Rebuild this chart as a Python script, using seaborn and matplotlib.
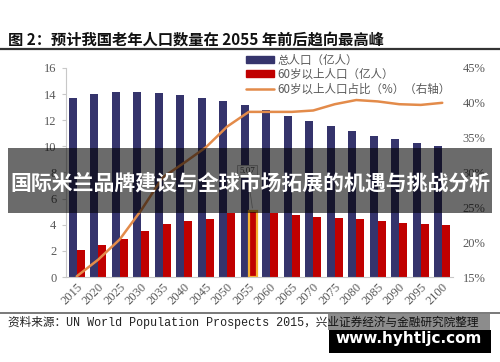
import numpy as np
import pandas as pd
import matplotlib
matplotlib.use("Agg")
import matplotlib.pyplot as plt
import seaborn as sns
from matplotlib.patches import Rectangle, Patch
from matplotlib.lines import Line2D

# --- data ---
years = ["2015", "2020", "2025", "2030", "2035", "2040", "2045", "2050", "2055",
         "2060", "2065", "2070", "2075", "2080", "2085", "2090", "2095", "2100"]
total_pop = [13.73, 14.00, 14.14, 14.14, 14.05, 13.90, 13.73, 13.48, 13.15,
             12.79, 12.35, 11.94, 11.56, 11.20, 10.82, 10.54, 10.24, 10.00]
old_pop = [2.07, 2.43, 2.91, 3.55, 4.08, 4.29, 4.47, 4.87, 5.07,
           4.87, 4.72, 4.62, 4.54, 4.47, 4.31, 4.13, 4.03, 3.96]
old_share = [15.1, 17.5, 20.4, 24.6, 29.3, 31.4, 33.6, 36.6, 38.7,
             38.7, 38.7, 38.9, 39.8, 40.4, 40.2, 39.8, 39.7, 40.0]
series_names = ["总人口（亿人）", "60岁以上人口（亿人）", "60岁以上人口占比（%）（右轴）"]

navy, red, orange = "#35346c", "#c00000", "#e38b4a"
tick_grey = "#595959"

sns.set_style("white")
plt.rcParams["font.family"] = ["Noto Sans CJK SC", "DejaVu Sans"]

df = pd.DataFrame({
    "year": years * 2,
    "value": total_pop + old_pop,
    "series": [series_names[0]] * len(years) + [series_names[1]] * len(years),
})

fig = plt.figure(figsize=(5, 3.62), dpi=100)
ax = fig.add_axes([0.132, 0.2348, 0.774, 0.5774])

sns.barplot(data=df, x="year", y="value", hue="series", palette=[navy, red],
            width=0.75, saturation=1, linewidth=0, legend=False, ax=ax)
ax.set_xlim(-0.5, len(years) - 0.5)
ax.set_ylim(0, 16)
ax.set_yticks(range(0, 17, 2))
ax.set_xlabel("")
ax.set_ylabel("")

# highlighted 2055 bar
hl = ax.patches[len(years) + years.index("2055")]
hl.set_edgecolor("#f5b030")
hl.set_linewidth(1.6)
ax.annotate("5.07", xy=(8.19, 5.07), xytext=(7.92, 8.1),
            ha="center", va="center", fontsize=6.5, family="Liberation Serif",
            color="#444",
            bbox=dict(boxstyle="square,pad=0.25", fc="#f2f2f2", ec="#aaaaaa", lw=0.6),
            arrowprops=dict(arrowstyle="-", color="#aaaaaa", lw=0.6))

for s in ["top", "right"]:
    ax.spines[s].set_visible(False)
for s in ["left", "bottom"]:
    ax.spines[s].set_color("#c8c8c8")
    ax.spines[s].set_linewidth(0.8)
ax.tick_params(axis="y", length=3, width=0.8, color="#c8c8c8", pad=4,
               labelsize=9, labelcolor=tick_grey)
ax.tick_params(axis="x", which="major", length=0, pad=3, labelsize=9, labelcolor=tick_grey)
ax.set_xticks(np.arange(-0.5, len(years), 1), minor=True)
ax.tick_params(axis="x", which="minor", length=3, width=0.8, color="#c8c8c8")
for lab in ax.get_xticklabels() + ax.get_yticklabels():
    lab.set_family("Liberation Serif")
for lab in ax.get_xticklabels():
    lab.set_rotation(45)
    lab.set_ha("right")
    lab.set_va("top")
    lab.set_rotation_mode("anchor")

ax2 = ax.twinx()
sns.lineplot(x=np.arange(len(years)), y=old_share, color=orange, linewidth=1.8, ax=ax2)
ax2.set_ylim(15, 45)
ax2.set_yticks(range(15, 46, 5))
ax2.set_yticklabels([f"{v}%" for v in range(15, 46, 5)], family="Liberation Serif")
ax2.tick_params(axis="y", length=0, pad=7, labelsize=9, labelcolor=tick_grey)
for s in ax2.spines.values():
    s.set_visible(False)

handles = [Patch(color=navy), Patch(color=red), Line2D([], [], color=orange, lw=1.8)]
fig.legend(handles, series_names, loc="upper left", bbox_to_anchor=(0.492, 0.852),
           frameon=False, prop=dict(family=["Noto Sans CJK SC"], size=8.3),
           labelcolor=tick_grey, handlelength=2.4, handleheight=0.55,
           handletextpad=0.35, labelspacing=0.12, borderpad=0, borderaxespad=0)

# header and footer
fig.text(0.016, 0.892, "图 2：预计我国老年人口数量在 2055 年前后趋向最高峰",
         fontsize=11, fontweight="bold", color="#111", va="center")
fig.add_artist(Line2D([0, 1], [0.8646, 0.8646], transform=fig.transFigure,
                      color="#333333", lw=1.6))
fig.add_artist(Line2D([0, 1], [0.1354, 0.1354], transform=fig.transFigure,
                      color="#555555", lw=1.1))
fig.text(0.016, 0.108, "资料来源：UN World Population Prospects 2015，兴业证券经济与金融研究院整理",
         fontsize=8.4, color="#222", va="center",
         family=["Liberation Mono", "Noto Sans CJK SC"])

# overlay banner
fig.add_artist(Rectangle((8 / 500, 1 - 213 / 362), 484 / 500, 65 / 362,
                         transform=fig.transFigure, color="black", alpha=0.58,
                         lw=0, zorder=10))
fig.text(0.5, 1 - 183 / 362, "国际米兰品牌建设与全球市场拓展的机遇与挑战分析",
         fontsize=15, fontweight="bold", color="white", ha="center", va="center",
         zorder=11)

# watermark
fig.add_artist(Rectangle((328 / 500, 1 - 330 / 362), 162 / 500, 16 / 362,
                         transform=fig.transFigure, color="black", alpha=0.45,
                         lw=0, zorder=10))
fig.add_artist(Rectangle((329 / 500, 1 - 353 / 362), 162 / 500, 23 / 362,
                         transform=fig.transFigure, color="black", lw=0, zorder=10))
fig.text(409 / 500, 1 - 339 / 362, "www.hyhtljc.com", fontsize=11, fontweight="bold",
         color="white", ha="center", va="center", family="DejaVu Sans", zorder=11)

fig.savefig("out.png", dpi=100)
